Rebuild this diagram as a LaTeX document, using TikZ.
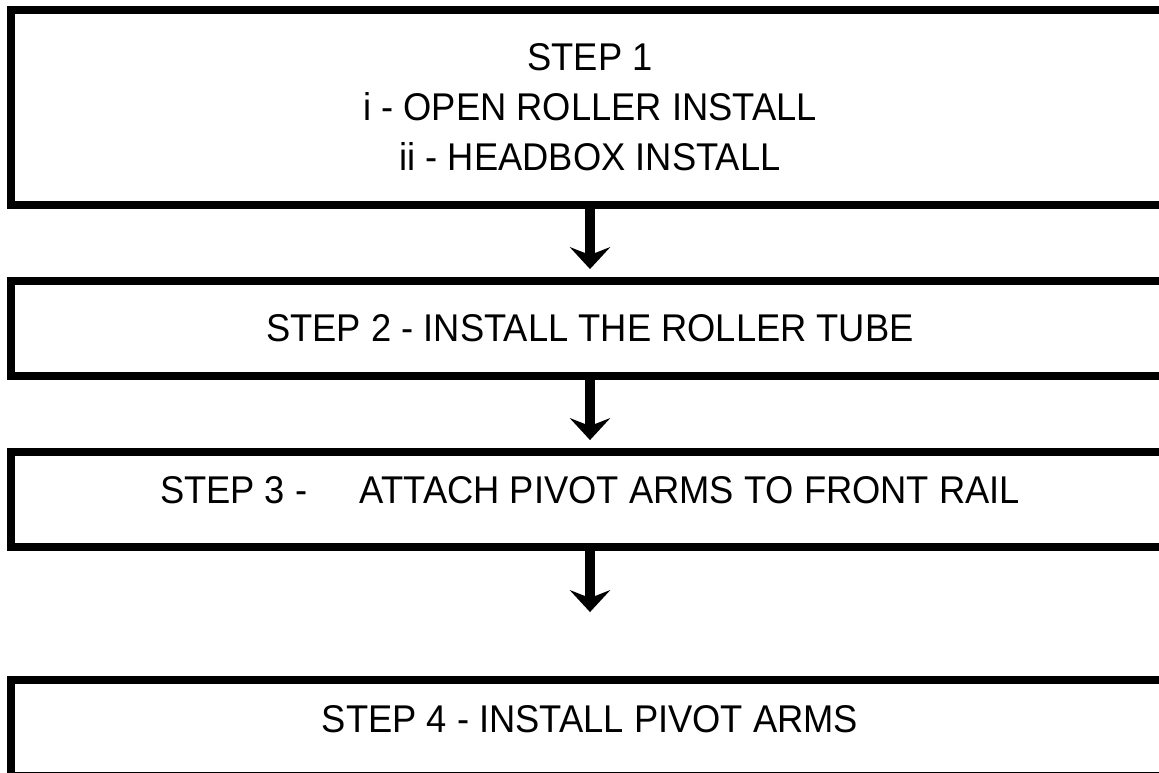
\documentclass[tikz,border=0pt]{standalone}
\usepackage{fontspec}
\setmainfont[FakeStretch=0.94]{Liberation Sans}
\usetikzlibrary{arrows.meta}

\begin{document}
\begin{tikzpicture}[
      x=0.02cm, y=-0.02cm,
      font=\fontsize{22}{28.35}\selectfont,
      bx/.style={draw, line width=4.5pt, align=center, minimum width=23.16cm,
                 inner sep=0pt},
      up/.style={text depth=0.36cm},
      a/.style={-{Stealth[length=12.5pt, width=23pt, inset=4.5pt]},
                line width=5.7pt, shorten >=0.16cm},
    ]
    \clip (0,0) rectangle (1159,773);
    % steps
    \node[bx, minimum height=3.9cm]      (b1) at (590,107.5) {STEP 1\\i - OPEN ROLLER INSTALL\\ii - HEADBOX INSTALL};
    \node[bx, minimum height=1.9cm]      (b2) at (590,328.5) {STEP 2 - INSTALL THE ROLLER TUBE};
    \node[bx, up, minimum height=1.9cm]  (b3) at (590,499.5) {STEP 3 -\hspace{1.05cm}ATTACH PIVOT ARMS TO FRONT RAIL};
    \node[bx, up, minimum height=1.92cm] (b4) at (590,728)   {STEP 4 - INSTALL PIVOT ARMS};

    \draw[a] (b1) -- (b2);
    \draw[a] (b2) -- (b3);
    \draw[a, shorten >=1.28cm] (b3) -- (b4);
  \end{tikzpicture}
\end{document}
